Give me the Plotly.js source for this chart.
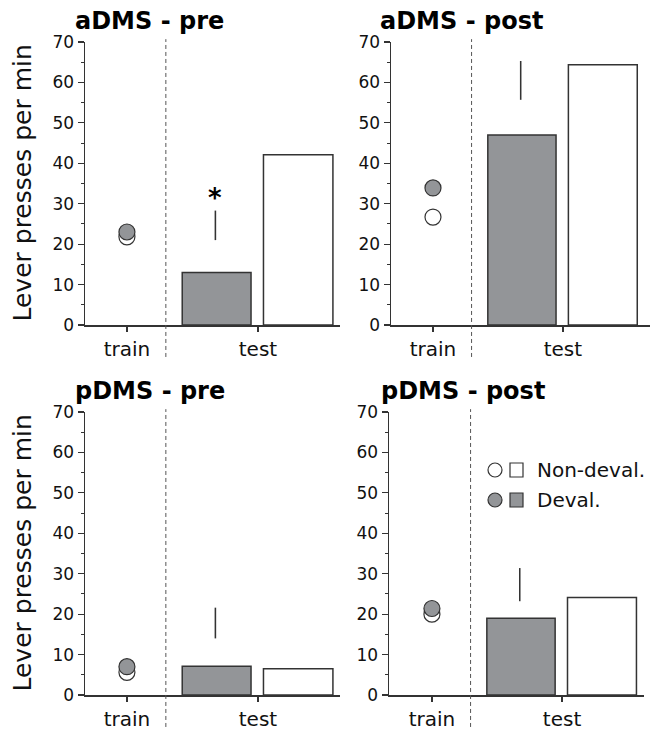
<!DOCTYPE html>
<html>
<head>
<meta charset="utf-8">
<script src="https://cdn.plot.ly/plotly-3.0.1.min.js"></script>
<style>html,body{margin:0;padding:0;background:#fff;}</style>
</head>
<body>
<div id="chart" style="width:653px;height:733px;"></div>
<script>
// ---- data ----
const categories = ['train', 'test'];
const panelTitles = ['aDMS - pre', 'aDMS - post', 'pDMS - pre', 'pDMS - post'];
const trainNonDeval = [21.8, 26.7, 5.6, 20.0];
const trainDeval = [23.0, 33.9, 7.0, 21.4];
const testDeval = [13.0, 47.0, 7.1, 19.0];
const testNonDeval = [42.1, 64.4, 6.5, 24.1];
const diffLow = [21.0, 55.7, 14.0, 23.2];
const diffHigh = [28.3, 65.3, 21.6, 31.4];
const significance = ['*', '', '', ''];
const yTickVals = [0, 10, 20, 30, 40, 50, 60, 70];
const legendLabels = ['Non-deval.', 'Deval.'];
const yTitle = 'Lever presses per min';

// ---- style / layout ----
const W = 653, H = 733;
const FONT = 'DejaVu Sans, Liberation Sans, Arial, sans-serif';
const GREY = '#939598';
const DARK = '#333333';
const px = v => v / W;
const py = v => (H - v) / H;

// panel geometry in pixels: [left, right, top, bottom], x range
const panels = [
  {l: 85, r: 340, t: 42, b: 325, range: [-0.32, 1.626]},
  {l: 391, r: 650, t: 42, b: 325, range: [-0.323, 1.67]},
  {l: 85, r: 340, t: 412, b: 695, range: [-0.32, 1.626]},
  {l: 389, r: 644, t: 412, b: 695, range: [-0.33, 1.63]}
];
const titleX = [73, 378, 73, 379];
const titleY = [21, 21, 391, 391];

const greyOffset = -0.578, greyWidth = 0.525;
const whiteOffset = 0.042, whiteWidth = 0.53;
const diffX = -0.325, diffW = 0.012;
const dashX = 0.297;

const traces = [];
const layout = {
  width: W, height: H, autosize: false,
  margin: {l: 0, r: 0, t: 0, b: 0},
  paper_bgcolor: '#fff', plot_bgcolor: 'rgba(0,0,0,0)',
  showlegend: false, barmode: 'overlay',
  font: {family: FONT, color: '#111'},
  annotations: [], shapes: []
};

panels.forEach((p, i) => {
  const n = i + 1;
  const xa = 'x' + (n === 1 ? '' : n), ya = 'y' + (n === 1 ? '' : n);
  const xk = 'xaxis' + (n === 1 ? '' : n), yk = 'yaxis' + (n === 1 ? '' : n);
  layout[xk] = {
    domain: [px(p.l), px(p.r)], anchor: ya, type: 'category',
    categoryorder: 'array', categoryarray: categories,
    range: p.range, showgrid: false, zeroline: false,
    showline: true, linecolor: DARK, linewidth: 1.5,
    ticks: 'outside', ticklen: 5, tickwidth: 1.2, tickcolor: DARK,
    tickfont: {size: 20, family: FONT, color: '#111'}, fixedrange: true
  };
  layout[yk] = {
    domain: [py(p.b), py(p.t)], anchor: xa, range: [0, 70],
    tickvals: yTickVals, ticktext: yTickVals.map(String),
    showgrid: false, zeroline: false,
    showline: true, linecolor: DARK, linewidth: 1.5,
    ticks: 'outside', ticklen: 6, tickwidth: 1.2, tickcolor: DARK,
    minor: {dtick: 5, tick0: 0, ticks: 'outside', ticklen: 3, tickwidth: 1, tickcolor: DARK, showgrid: false},
    tickfont: {size: 17, family: FONT, color: '#111'}, fixedrange: true
  };

  // test bars
  traces.push({type: 'bar', x: [categories[1]], y: [testDeval[i]], xaxis: xa, yaxis: ya,
    offset: greyOffset, width: greyWidth,
    marker: {color: GREY, line: {color: DARK, width: 1.5}}, hoverinfo: 'skip'});
  traces.push({type: 'bar', x: [categories[1]], y: [testNonDeval[i]], xaxis: xa, yaxis: ya,
    offset: whiteOffset, width: whiteWidth,
    marker: {color: '#ffffff', line: {color: DARK, width: 1.5}}, hoverinfo: 'skip'});
  // floating difference line
  traces.push({type: 'bar', x: [categories[1]], base: [diffLow[i]], y: [diffHigh[i] - diffLow[i]],
    xaxis: xa, yaxis: ya, offset: diffX - diffW / 2, width: diffW,
    marker: {color: DARK, line: {width: 0}}, hoverinfo: 'skip'});
  // train circles
  traces.push({type: 'scatter', mode: 'markers', x: [categories[0]], y: [trainNonDeval[i]],
    xaxis: xa, yaxis: ya, cliponaxis: false,
    marker: {size: 16, color: '#ffffff', line: {color: DARK, width: 1.2}}, hoverinfo: 'skip'});
  traces.push({type: 'scatter', mode: 'markers', x: [categories[0]], y: [trainDeval[i]],
    xaxis: xa, yaxis: ya, cliponaxis: false,
    marker: {size: 16, color: GREY, line: {color: DARK, width: 1.2}}, hoverinfo: 'skip'});

  // dashed separator
  layout.shapes.push({type: 'line', xref: xa, yref: ya + ' domain',
    x0: dashX, x1: dashX, y0: -0.113, y1: 1.01,
    line: {color: '#555', width: 1, dash: '4px,3px'}});

  // panel title
  layout.annotations.push({text: '<b>' + panelTitles[i] + '</b>', xref: 'paper', yref: 'paper',
    x: px(titleX[i]), y: py(titleY[i]), xanchor: 'left', yanchor: 'middle', showarrow: false,
    font: {size: 24, family: FONT, color: '#000'}});

  if (significance[i]) {
    layout.annotations.push({text: '<b>' + significance[i] + '</b>', xref: xa, yref: ya,
      x: 1 + diffX, y: diffHigh[i] + 3.2, xanchor: 'center', yanchor: 'middle', showarrow: false,
      font: {size: 26, family: FONT, color: '#000'}});
  }
});

// y titles (left column)
[0, 2].forEach(i => {
  const p = panels[i];
  layout.annotations.push({text: yTitle, xref: 'paper', yref: 'paper',
    x: px(22), y: py((p.t + p.b) / 2), xanchor: 'center', yanchor: 'middle',
    textangle: -90, showarrow: false, font: {size: 25, family: FONT, color: '#111'}});
});

// custom legend in panel 4
const legRows = [470, 500];
const legFill = ['#ffffff', GREY];
legendLabels.forEach((lab, k) => {
  const cy = legRows[k];
  layout.shapes.push({type: 'circle', xref: 'paper', yref: 'paper',
    x0: px(488), x1: px(502), y0: py(cy + 7), y1: py(cy - 7),
    fillcolor: legFill[k], line: {color: DARK, width: 1.2}});
  layout.shapes.push({type: 'rect', xref: 'paper', yref: 'paper',
    x0: px(510), x1: px(523), y0: py(cy + 7), y1: py(cy - 7),
    fillcolor: legFill[k], line: {color: DARK, width: 1.2}});
  layout.annotations.push({text: lab, xref: 'paper', yref: 'paper',
    x: px(535), y: py(cy), xanchor: 'left', yanchor: 'middle', showarrow: false,
    font: {size: 20, family: FONT, color: '#111'}});
});

Plotly.newPlot('chart', traces, layout, {staticPlot: true, displayModeBar: false});
</script>
</body>
</html>
